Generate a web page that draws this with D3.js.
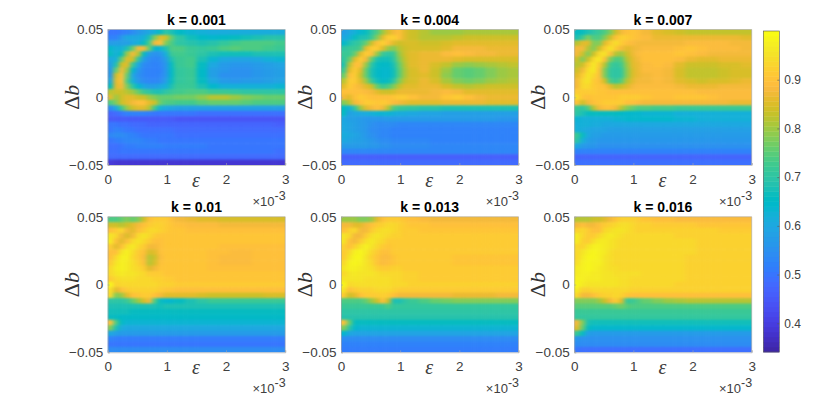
<!DOCTYPE html>
<html>
<head>
<meta charset="utf-8">
<title>k panels</title>
<script src="https://cdnjs.cloudflare.com/ajax/libs/d3/7.8.5/d3.min.js"></script>
<style>
  body { margin: 0; background: #fff; }
  text { font-family: "Liberation Sans", Arial, sans-serif; fill: #262626; }
</style>
</head>
<body>
<div id="chart"></div>
<script>
/* DATA - values in percent, top row is Δb = 0.05, left column is ε = 0 */
const titles = ["k = 0.001", "k = 0.004", "k = 0.007", "k = 0.01", "k = 0.013", "k = 0.016"];
const xTicks = [0, 0.001, 0.002, 0.003];
const yTicks = [-0.05, 0, 0.05];
const barTicks = [0.4, 0.5, 0.6, 0.7, 0.8, 0.9];
// column edges of the grids (ε), finer on the left where the arch is
const epsEdges = [0,.09375,.1875,.28125,.375,.46875,.5625,.65625,.75,.84375,.9375,1.03125,1.125,
  1.3125,1.5,1.6875,1.875,2.0625,2.25,2.4375,2.625,2.8125,3].map(d => d / 1000);

const k001 = [
[50,50,51,52,54,56,58,60,62,66,70,68,65,63,62,61,61,61,61,61,61,61],
[52,52,56,60,60,60,62,68,78,86,84,76,70,67,65,64,65,66,67,68,69,69],
[57,58,58,58,60,62,66,74,88,90,78,74,70,69,68,69,71,73,74,74,74,73],
[64,62,62,68,76,88,88,76,64,63,68,74,74,72,71,72,74,75,74,74,73,72],
[66,62,66,80,88,82,66,57,55,56,62,72,73,72,70,68,67,67,67,68,68,68],
[60,62,76,86,84,70,58,54,53,54,58,68,72,73,68,63,60,59,59,60,62,63],
[58,68,84,86,72,60,54,53,52,53,56,66,72,73,66,60,57,56,56,57,58,59],
[56,76,88,80,64,56,53,52,52,52,56,65,71,72,65,58,56,55,55,56,57,58],
[56,84,90,76,60,55,53,52,52,53,56,65,71,72,65,58,55,55,55,56,57,58],
[60,86,90,74,62,56,54,53,53,54,58,66,71,72,66,60,57,56,57,57,58,59],
[66,86,88,78,70,64,60,58,58,60,62,68,72,72,68,64,62,62,62,62,62,63],
[82,84,84,82,80,76,72,70,68,68,70,72,73,74,74,72,72,71,70,70,70,70],
[86,80,84,86,86,84,84,80,78,76,76,76,77,77,79,82,82,80,78,77,76,76],
[74,78,84,86,88,90,90,86,84,76,74,74,73,73,75,76,76,76,75,74,74,74],
[54,60,72,80,84,86,86,82,72,62,60,59,58,58,58,58,58,58,58,58,58,58],
[47,48,50,52,52,52,52,51,50,50,50,50,50,50,49,49,49,49,49,49,49,49],
[45,45,45,45,45,45,45,45,45,45,45,45,44,44,44,44,44,44,44,44,44,44],
[50,50,49,49,48,48,48,47,47,47,47,47,47,47,47,47,47,47,47,47,47,46],
[50,52,51,50,50,49,49,49,49,49,49,49,48,48,48,48,48,48,48,48,48,48],
[53,54,54,53,52,51,50,50,50,50,50,50,49,49,49,49,49,49,49,49,49,49],
[50,51,52,53,53,53,52,51,51,50,50,50,50,50,50,50,50,50,50,50,50,50],
[49,49,50,51,51,52,52,52,52,52,51,51,51,51,51,50,50,50,50,50,50,50],
[49,49,50,50,50,50,50,50,50,50,50,50,50,50,50,50,50,50,50,50,50,49],
[48,48,48,48,48,48,48,48,48,48,48,48,48,48,48,48,48,48,48,48,48,48],
[39,38,38,38,38,38,38,38,38,38,38,38,38,38,38,38,38,38,38,38,38,38]];

const k004 = [
[58,60,62,64,66,70,74,80,85,88,90,86,84,82,80,80,80,81,81,81,81,81],
[60,62,66,68,68,72,78,86,92,93,90,86,84,82,82,82,83,84,84,84,84,84],
[64,68,70,72,76,84,90,93,90,86,84,85,85,84,84,85,86,86,86,86,86,86],
[70,72,72,74,86,92,92,86,80,78,82,84,85,85,85,86,88,88,88,87,87,87],
[72,72,76,86,92,90,80,72,70,72,80,84,86,87,87,89,90,89,88,88,87,87],
[70,76,86,92,88,76,68,67,67,70,78,83,86,87,87,87,86,85,85,85,85,85],
[68,82,90,90,80,70,66,65,65,68,76,82,86,87,85,83,80,79,80,81,82,83],
[72,86,92,86,76,68,65,64,64,67,75,81,85,87,84,80,76,75,76,78,80,81],
[76,90,92,84,76,68,65,64,64,67,75,81,85,86,84,79,76,75,76,78,80,81],
[82,92,92,86,80,72,67,65,66,70,78,83,85,87,85,81,78,77,78,80,81,82],
[86,92,90,88,86,84,76,72,74,78,83,86,86,87,87,85,83,82,83,84,84,84],
[90,90,90,90,89,88,86,84,84,85,87,87,87,87,88,89,88,86,86,86,86,86],
[88,86,90,92,91,90,90,90,90,91,92,92,90,88,88,91,92,90,88,87,87,87],
[78,82,88,90,92,92,91,92,91,89,88,87,86,86,86,87,87,87,87,86,86,86],
[66,62,70,80,86,88,90,88,82,74,72,71,70,69,69,68,68,68,68,68,68,68],
[66,58,60,60,61,62,63,63,63,62,61,61,60,59,59,58,58,58,58,58,58,58],
[60,58,58,57,56,56,56,56,57,57,57,57,57,57,57,57,57,57,57,57,56,56],
[60,59,58,57,56,55,54,54,54,54,53,53,53,53,53,53,53,53,53,53,53,53],
[60,59,58,57,56,54,54,53,53,52,52,52,52,52,52,52,52,52,52,52,52,52],
[61,60,59,58,56,55,54,53,53,52,52,52,52,52,52,52,52,52,52,52,52,52],
[60,59,58,58,57,56,55,54,54,53,53,53,53,53,52,52,52,52,52,52,52,52],
[57,57,57,57,57,56,56,55,55,54,54,54,54,54,53,53,53,53,53,53,53,53],
[53,53,53,53,53,53,53,53,53,53,53,53,53,53,53,53,53,53,53,53,53,53],
[46,46,46,46,46,46,46,46,46,46,46,46,46,46,46,46,46,46,46,46,46,46],
[48,48,48,48,48,48,48,48,48,48,48,48,48,48,48,48,48,48,48,48,48,48]];

const k007 = [
[66,66,68,70,72,74,78,84,88,90,91,90,88,86,85,84,83,83,83,83,83,83],
[68,72,78,74,74,78,84,90,93,92,91,90,89,87,87,87,87,87,87,87,87,86],
[82,86,86,78,78,86,92,95,92,90,89,88,88,88,88,88,89,89,89,89,88,88],
[88,88,82,78,84,92,96,92,88,86,87,88,89,89,89,90,91,90,89,89,89,88],
[88,84,78,84,94,96,90,82,80,84,87,89,90,90,90,91,90,89,88,88,88,88],
[84,78,84,94,97,90,78,74,75,82,86,88,90,90,90,89,87,86,86,87,87,87],
[82,84,92,97,92,82,73,71,73,80,86,87,89,90,89,86,84,84,84,85,85,86],
[84,88,95,97,90,78,71,70,71,79,85,87,89,89,88,85,83,83,83,84,85,85],
[86,92,96,94,90,78,71,70,71,79,85,87,88,89,88,85,83,83,83,84,85,85],
[88,94,96,92,90,84,74,72,75,82,86,88,88,89,88,86,85,84,85,85,86,87],
[88,94,94,92,91,90,86,82,84,86,88,89,89,89,89,88,87,87,87,88,88,88],
[92,92,92,92,91,91,90,90,90,90,90,90,90,90,90,90,90,89,89,89,89,89],
[95,91,90,91,91,91,91,91,92,92,92,92,91,90,90,91,91,91,90,89,89,89],
[90,84,88,90,91,92,92,92,92,90,90,89,88,88,88,88,88,88,88,88,87,87],
[72,70,74,82,88,90,90,88,82,78,76,74,74,73,73,72,72,72,72,72,72,72],
[70,68,66,66,66,66,66,66,65,64,64,64,63,63,63,62,62,62,62,62,62,62],
[63,62,62,62,62,62,62,63,63,64,64,64,64,64,64,63,63,62,62,62,62,62],
[62,62,62,61,61,60,60,60,60,60,60,60,60,60,60,60,60,60,60,60,60,60],
[62,61,60,59,59,59,58,58,58,58,58,58,58,58,58,58,58,58,58,58,58,58],
[72,66,60,58,58,57,57,57,57,57,57,57,57,57,57,57,57,57,57,57,57,57],
[70,62,58,57,56,56,56,56,56,56,56,56,56,56,56,56,56,56,56,56,56,56],
[60,57,56,56,55,55,55,55,55,55,55,55,55,55,55,55,55,55,55,55,55,55],
[52,52,52,52,52,52,52,52,52,52,52,52,52,52,52,52,52,52,52,52,52,52],
[47,47,47,47,47,47,47,47,47,47,47,47,47,47,47,47,47,47,47,47,47,47],
[49,49,49,49,49,49,49,49,49,49,49,49,49,49,49,49,49,49,49,49,49,49]];

const k010 = [
[74,74,76,78,76,78,84,90,92,92,92,90,88,87,86,86,85,85,85,85,85,85],
[84,84,82,84,86,88,90,92,93,93,92,91,90,89,89,89,88,88,88,88,88,88],
[90,92,94,88,86,90,92,94,94,93,92,91,91,90,90,90,90,90,90,90,90,90],
[96,94,88,85,88,94,96,94,92,91,91,91,91,91,91,91,91,91,91,91,91,91],
[97,90,86,90,94,96,94,92,90,90,91,91,91,91,91,91,91,91,91,91,91,91],
[92,86,90,95,97,94,92,88,88,90,91,91,91,91,91,91,90,90,90,90,90,90],
[90,90,96,98,95,92,90,85,86,90,91,91,91,91,91,90,90,89,89,90,90,90],
[90,94,98,98,94,92,89,82,84,89,91,91,91,91,91,90,89,89,89,90,90,90],
[92,96,98,97,95,93,90,82,85,90,91,91,91,91,91,90,89,89,89,90,90,90],
[94,97,98,97,95,94,92,86,88,91,91,91,91,91,91,90,90,90,90,90,90,90],
[94,96,97,96,96,95,94,92,92,92,91,91,91,91,91,91,91,91,91,91,91,91],
[92,94,95,95,95,94,94,94,93,93,92,92,91,91,91,91,91,91,91,91,91,91],
[99,93,94,94,94,94,94,94,94,93,93,93,92,92,92,92,92,92,92,92,92,92],
[95,86,90,92,93,93,93,93,93,92,91,91,90,90,90,90,90,90,90,90,90,90],
[94,78,80,86,90,91,92,92,90,88,86,86,86,86,85,84,84,84,84,84,85,85],
[70,70,70,72,76,80,85,88,74,66,64,64,66,68,70,72,72,72,72,72,72,72],
[68,68,68,68,68,68,68,68,68,67,68,68,68,68,68,68,68,68,68,68,68,68],
[67,67,67,67,66,66,66,66,66,66,66,66,66,66,66,66,66,66,66,66,66,66],
[66,66,65,65,65,65,65,65,65,65,65,65,65,65,65,65,65,65,65,65,65,65],
[90,74,65,63,63,63,63,63,63,63,63,63,63,63,63,63,63,63,63,63,63,63],
[78,68,61,60,60,60,60,60,60,60,60,60,60,60,60,60,60,60,60,60,60,60],
[60,58,57,57,57,57,57,57,57,57,57,57,57,57,57,57,57,57,57,57,57,57],
[52,51,51,51,51,51,51,51,51,51,51,51,51,51,51,51,51,51,51,51,51,51],
[50,50,50,50,50,50,50,50,50,50,50,50,50,50,50,50,50,50,50,50,50,50],
[54,54,54,54,54,54,54,54,54,54,54,54,54,54,54,54,54,54,54,54,54,54]];

const k013 = [
[80,80,80,78,78,80,86,90,92,92,92,91,90,89,88,88,88,88,88,88,88,88],
[88,88,86,86,88,90,92,93,94,94,93,92,91,91,90,90,90,90,90,90,90,90],
[90,93,94,88,88,92,94,95,95,94,93,92,92,91,91,91,91,91,91,91,91,91],
[96,94,88,88,92,95,96,95,94,93,93,92,92,92,92,92,92,92,92,92,92,92],
[96,90,88,92,95,97,95,94,92,92,92,92,92,92,92,92,92,92,92,92,92,92],
[93,90,93,96,98,96,94,92,91,92,92,92,92,92,92,92,92,92,92,92,92,92],
[92,94,98,99,97,94,92,90,90,92,92,92,92,92,92,92,92,92,92,92,92,92],
[92,96,99,99,96,93,91,89,89,91,92,92,92,92,92,92,91,91,91,91,91,91],
[94,98,99,98,96,94,91,89,90,91,92,92,92,92,92,92,91,91,91,91,91,91],
[96,98,98,97,96,95,93,92,92,93,93,92,92,92,92,92,92,92,92,92,92,92],
[94,96,97,96,96,96,95,94,94,94,94,93,93,92,92,92,92,92,92,92,92,92],
[96,96,96,96,95,95,95,95,95,94,94,93,93,92,92,92,92,92,92,92,92,92],
[99,94,95,95,95,95,95,95,95,94,94,94,93,93,93,93,93,93,93,93,93,93],
[96,90,92,93,93,93,94,94,94,93,92,92,92,92,92,92,92,92,92,92,92,92],
[92,84,86,90,92,92,92,93,92,90,88,88,88,88,88,88,87,87,87,87,88,88],
[74,74,74,74,76,80,84,90,84,68,68,70,72,74,76,77,78,78,78,78,78,78],
[72,72,72,72,72,72,72,72,74,71,71,71,71,71,71,71,71,71,71,71,71,71],
[70,70,70,70,70,70,70,70,70,70,70,70,70,70,70,70,70,70,70,70,70,70],
[69,69,69,69,69,69,69,69,69,69,69,69,69,69,69,69,69,69,69,69,69,69],
[90,76,66,66,66,66,66,66,66,66,66,66,66,66,66,66,66,66,66,66,66,66],
[78,70,64,63,63,63,63,63,63,63,63,63,63,63,63,63,63,63,63,63,63,63],
[64,60,59,59,59,59,59,59,59,59,59,59,59,59,59,59,59,59,59,59,59,59],
[54,54,54,54,54,54,54,54,54,54,54,54,54,54,54,54,54,54,54,54,54,54],
[52,52,52,52,52,52,52,52,52,52,52,52,52,52,52,52,52,52,52,52,52,52],
[51,51,51,51,51,51,51,51,51,51,51,51,51,51,51,51,51,51,51,51,51,51]];

const k016 = [
[82,82,82,84,84,86,88,91,93,93,93,92,91,90,90,89,89,89,89,89,89,89],
[88,90,88,88,90,92,93,94,95,95,94,93,93,92,92,92,92,91,91,91,91,91],
[93,94,92,90,90,94,95,96,96,95,94,93,93,93,93,93,93,93,93,92,92,92],
[97,94,92,92,94,96,97,96,95,94,94,94,94,94,94,93,93,93,93,93,93,93],
[97,93,92,95,97,97,96,95,94,94,94,94,94,94,94,94,94,93,93,93,93,93],
[94,93,96,98,98,97,96,95,94,94,94,94,94,94,94,94,94,93,93,93,93,93],
[94,96,98,99,98,97,95,94,94,94,94,94,94,94,94,94,94,93,93,93,93,93],
[94,97,99,99,98,96,95,94,94,94,94,94,94,94,94,94,93,93,93,93,93,93],
[95,98,99,98,98,96,95,94,94,94,94,94,94,94,94,94,93,93,93,93,93,93],
[97,98,99,98,97,96,95,95,94,94,94,94,94,94,94,94,93,93,93,93,93,93],
[97,98,98,97,97,96,96,95,95,95,95,95,94,94,94,94,93,93,93,93,93,93],
[98,98,97,97,97,96,96,96,95,95,94,94,94,94,94,94,93,93,93,93,93,93],
[99,97,96,96,96,96,96,96,95,95,94,94,94,94,94,93,93,93,93,93,93,93],
[97,93,93,94,94,94,94,94,94,94,93,93,93,93,93,93,93,93,93,93,93,93],
[94,88,88,90,92,93,93,94,93,91,90,90,90,90,90,90,90,90,90,90,90,90],
[78,78,78,78,80,84,88,92,86,72,72,74,76,78,80,81,82,82,82,82,82,82],
[75,75,75,75,75,75,75,76,77,75,74,74,74,74,74,74,74,74,74,74,74,74],
[72,72,72,72,72,72,72,72,72,72,72,72,72,72,72,72,72,72,72,72,72,72],
[71,71,71,71,71,71,71,71,71,71,71,71,71,71,71,71,71,71,71,71,71,71],
[88,78,68,67,67,67,67,67,67,67,67,67,67,67,67,67,67,67,67,67,67,67],
[86,76,66,64,64,64,64,64,64,64,64,64,64,64,64,64,64,64,64,64,64,64],
[72,66,58,57,57,57,57,57,57,57,57,57,57,57,57,57,57,57,57,57,57,57],
[56,55,55,55,55,55,55,55,55,55,55,55,55,55,55,55,55,55,55,55,55,55],
[54,54,54,54,54,54,54,54,54,54,54,54,54,54,54,54,54,54,54,54,54,54],
[50,49,49,49,49,49,49,49,49,49,49,49,49,49,49,49,49,49,49,49,49,49]];

const panelsData = [k001, k004, k007, k010, k013, k016];

// older parula colormap (the brighter blue one)
const parula = [
[.2422,.1504,.6603],[.2504,.1650,.7076],[.2578,.1818,.7511],[.2647,.1978,.7952],
[.2706,.2147,.8364],[.2751,.2342,.8710],[.2783,.2559,.8991],[.2803,.2782,.9221],
[.2813,.3006,.9414],[.2810,.3228,.9579],[.2795,.3447,.9717],[.2760,.3667,.9829],
[.2699,.3892,.9906],[.2602,.4123,.9952],[.2440,.4358,.9988],[.2206,.4603,.9973],
[.1963,.4847,.9892],[.1834,.5074,.9798],[.1786,.5289,.9682],[.1764,.5499,.9520],
[.1687,.5703,.9359],[.1540,.5902,.9218],[.1460,.6091,.9079],[.1380,.6276,.8973],
[.1248,.6459,.8883],[.1113,.6635,.8763],[.0952,.6798,.8598],[.0689,.6948,.8394],
[.0297,.7082,.8163],[.0036,.7203,.7917],[.0067,.7312,.7660],[.0433,.7411,.7394],
[.0964,.7500,.7120],[.1408,.7584,.6842],[.1717,.7670,.6554],[.1938,.7758,.6251],
[.2161,.7843,.5923],[.2470,.7918,.5567],[.2906,.7973,.5188],[.3406,.8008,.4789],
[.3909,.8029,.4354],[.4456,.8024,.3909],[.5044,.7993,.3480],[.5616,.7942,.3045],
[.6162,.7876,.2612],[.6720,.7793,.2227],[.7242,.7698,.1910],[.7738,.7598,.1646],
[.8203,.7498,.1535],[.8634,.7406,.1596],[.9035,.7330,.1774],[.9393,.7288,.2100],
[.9728,.7298,.2394],[.9956,.7434,.2371],[.9970,.7659,.2199],[.9952,.7893,.2028],
[.9892,.8136,.1885],[.9786,.8386,.1766],[.9676,.8639,.1643],[.9610,.8902,.1537],
[.9597,.9135,.1423],[.9628,.9373,.1265],[.9691,.9606,.1064],[.9769,.9839,.0805]
].map(c => d3.rgb(c[0] * 255, c[1] * 255, c[2] * 255).formatHex());

/* LAYOUT */
const width = 830, height = 395;
const plotW = 177.5, plotH = 135.5;
const lefts = [107.7, 341, 574.2];
const tops = [29.5, 216.8];
const barBox = {x: 763.3, w: 16, top: 31, bottom: 352};
const cMin = 0.341, cMax = 1.0;
const axisColor = "#a6a6a6";
const tickFont = 13.5;

const svg = d3.select("#chart").append("svg")
  .attr("width", width)
  .attr("height", height);

const defs = svg.append("defs");
const blur = defs.append("filter")
  .attr("id", "soft")
  .attr("filterUnits", "userSpaceOnUse")
  .attr("x", 0).attr("y", 0).attr("width", width).attr("height", height)
  .attr("color-interpolation-filters", "sRGB");
blur.append("feGaussianBlur").attr("stdDeviation", "2.2 1.1");

const colorIdx = d3.scaleLinear().domain([cMin, cMax]).range([0, parula.length - 1]).clamp(true);
const color = v => {
  const t = colorIdx(v), i = Math.min(Math.floor(t), parula.length - 2);
  return d3.interpolateRgb(parula[i], parula[i + 1])(t - i);
};

const xScale = d3.scaleLinear().domain([0, 0.003]);
const yScale = d3.scaleLinear().domain([-0.05, 0.05]);

panelsData.forEach((rows, p) => {
  const left = lefts[p % 3], top = tops[Math.floor(p / 3)];
  const x = xScale.copy().range([0, plotW]);
  const y = yScale.copy().range([plotH, 0]);
  const nRow = rows.length, nCol = rows[0].length;
  const dy = 0.1 / nRow;

  const g = svg.append("g").attr("transform", `translate(${left},${top})`);

  defs.append("clipPath").attr("id", "clip" + p)
    .append("rect").attr("width", plotW).attr("height", plotH);

  const cells = rows.flatMap((row, r) => row.map((v, c) => ({r, c, v: v / 100})));
  const pad = 14; // edge cells run past the clip so the blur does not fade at the border
  g.append("g").attr("clip-path", `url(#clip${p})`)
    .append("g").attr("transform", `translate(${-left},${-top})`).attr("filter", "url(#soft)")
    .append("g").attr("transform", `translate(${left},${top})`)
    .selectAll("rect").data(cells).enter().append("rect")
    .attr("x", d => x(epsEdges[d.c]) - (d.c === 0 ? pad : 0))
    .attr("y", d => y(0.05 - d.r * dy) - (d.r === 0 ? pad : 0))
    .attr("width", d => x(epsEdges[d.c + 1]) - x(epsEdges[d.c]) + 0.5 + (d.c === 0 || d.c === nCol - 1 ? pad : 0))
    .attr("height", d => y(0) - y(dy) + 0.5 + (d.r === 0 || d.r === nRow - 1 ? pad : 0))
    .attr("fill", d => color(d.v));

  // axes with the short inward ticks
  const xAxis = g.append("g").attr("transform", `translate(0,${plotH})`)
    .call(d3.axisBottom(x).tickValues(xTicks).tickFormat(d => d3.format("d")(d * 1000)).tickSize(-2).tickPadding(9));
  const yAxis = g.append("g")
    .call(d3.axisLeft(y).tickValues(yTicks).tickFormat(d => d === 0 ? "0" : d3.format(".2f")(d)).tickSize(-2).tickPadding(4.5));
  [xAxis, yAxis].forEach(a => {
    a.selectAll("path,line").attr("stroke", axisColor).attr("stroke-width", 0.6);
    a.selectAll("text").attr("font-size", tickFont).style("font-family", '"Liberation Sans", Arial, sans-serif').style("fill", "#404040");
  });
  g.append("path").attr("d", `M0,0H${plotW}V${plotH}`).attr("fill", "none")
    .attr("stroke", axisColor).attr("stroke-width", 0.6);

  g.append("text").attr("x", plotW / 2).attr("y", -5).attr("text-anchor", "middle")
    .attr("font-size", 14).attr("font-weight", "bold").style("fill", "#000").text(titles[p]);

  // Δb label
  const yl = g.append("text")
    .attr("transform", `translate(-29,${y(0)}) rotate(-90)`)
    .attr("text-anchor", "middle")
    .attr("font-size", 22)
    .style("font-family", '"Liberation Serif", serif')
    .style("fill", "#333");
  yl.append("tspan").text("Δ");
  yl.append("tspan").attr("font-style", "italic").text("b");

  g.append("text").attr("x", x(0.00149)).attr("y", plotH + 21.5).attr("text-anchor", "middle")
    .attr("font-size", 20).attr("font-style", "italic")
    .style("font-family", '"Liberation Serif", serif').style("fill", "#404040").text("ε");

  // exponent
  const ex = g.append("text").attr("x", plotW + 0.5).attr("y", plotH + 40.5).attr("text-anchor", "end")
    .attr("font-size", 13).style("fill", "#404040");
  ex.append("tspan").text("×10");
  ex.append("tspan").attr("dy", -6).attr("font-size", 12.5).text("-3");
});

/* COLORBAR */
const barScale = d3.scaleLinear().domain([cMin, cMax]).range([barBox.bottom, barBox.top]);
const barBand = d3.scaleBand().domain(d3.range(parula.length)).range([barBox.bottom, barBox.top]);
const bar = svg.append("g");
bar.selectAll("rect").data(parula).enter().append("rect")
  .attr("x", barBox.x)
  .attr("y", (d, i) => barBand(i))
  .attr("width", barBox.w)
  .attr("height", barBand.bandwidth() + 0.4)
  .attr("fill", d => d);
bar.append("rect").attr("x", barBox.x).attr("y", barBox.top).attr("width", barBox.w)
  .attr("height", barBox.bottom - barBox.top).attr("fill", "none")
  .attr("stroke", "#555").attr("stroke-width", 0.6);
const barAxis = bar.append("g").attr("transform", `translate(${barBox.x + barBox.w},0)`)
  .call(d3.axisRight(barScale).tickValues(barTicks).tickFormat(d3.format(".1f")).tickSize(-2).tickPadding(5));
barAxis.select(".domain").remove();
barAxis.selectAll("line").attr("stroke", "#555").attr("stroke-width", 0.6);
barAxis.selectAll("text").attr("font-size", 12).style("font-family", '"Liberation Sans", Arial, sans-serif').style("fill", "#404040");
</script>
</body>
</html>
